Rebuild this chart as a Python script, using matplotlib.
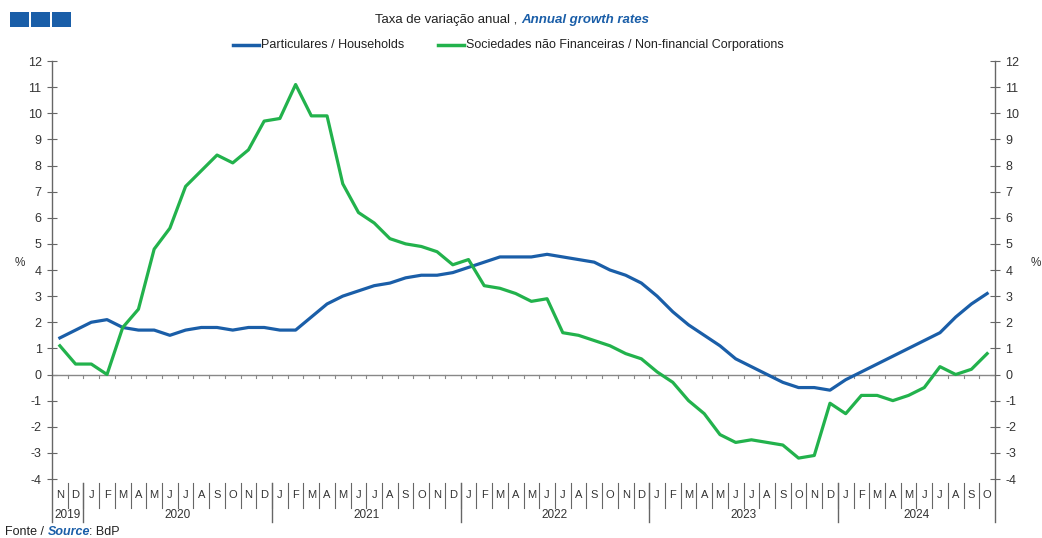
import numpy as np
import matplotlib.pyplot as plt
from matplotlib.patches import Rectangle

# monthly data, Nov 2019 .. Oct 2024
month_letters = ['N', 'D'] + ['J', 'F', 'M', 'A', 'M', 'J', 'J', 'A', 'S', 'O', 'N', 'D'] * 4 + \
    ['J', 'F', 'M', 'A', 'M', 'J', 'J', 'A', 'S', 'O']
years = ['2019', '2020', '2021', '2022', '2023', '2024']
year_months = [2, 12, 12, 12, 12, 10]

households = [1.4, 1.7, 2.0, 2.1, 1.8, 1.7, 1.7, 1.5, 1.7, 1.8, 1.8, 1.7, 1.8, 1.8, 1.7, 1.7,
              2.2, 2.7, 3.0, 3.2, 3.4, 3.5, 3.7, 3.8, 3.8, 3.9, 4.1, 4.3, 4.5, 4.5, 4.5, 4.6,
              4.5, 4.4, 4.3, 4.0, 3.8, 3.5, 3.0, 2.4, 1.9, 1.5, 1.1, 0.6, 0.3, 0.0, -0.3, -0.5,
              -0.5, -0.6, -0.2, 0.1, 0.4, 0.7, 1.0, 1.3, 1.6, 2.2, 2.7, 3.1]
corporations = [1.1, 0.4, 0.4, 0.0, 1.8, 2.5, 4.8, 5.6, 7.2, 7.8, 8.4, 8.1, 8.6, 9.7, 9.8, 11.1,
                9.9, 9.9, 7.3, 6.2, 5.8, 5.2, 5.0, 4.9, 4.7, 4.2, 4.4, 3.4, 3.3, 3.1, 2.8, 2.9,
                1.6, 1.5, 1.3, 1.1, 0.8, 0.6, 0.1, -0.3, -1.0, -1.5, -2.3, -2.6, -2.5, -2.6, -2.7, -3.2,
                -3.1, -1.1, -1.5, -0.8, -0.8, -1.0, -0.8, -0.5, 0.3, 0.0, 0.2, 0.8]

BLUE = '#1a5ea8'
GREEN = '#22b24c'
GREY = '#666666'
FONT = ['Liberation Sans Narrow', 'Liberation Sans', 'DejaVu Sans']

plt.rcParams['font.family'] = ['Liberation Sans', 'DejaVu Sans']
plt.rcParams['axes.unicode_minus'] = False

fig = plt.figure(figsize=(10.42, 5.38), dpi=100)
ax = fig.add_axes([52 / 1042, 1 - 479 / 538, 943 / 1042, 418 / 538])

x = np.arange(len(month_letters))
ax.plot(x, households, color=BLUE, lw=2.3, solid_joinstyle='round', zorder=3)
ax.plot(x, corporations, color=GREEN, lw=2.3, solid_joinstyle='round', zorder=3)

ax.set_xlim(-0.5, len(x) - 0.5)
ax.set_ylim(-4, 12)
ax.set_yticks(range(-4, 13))
ax.set_xticks([])
for s in ax.spines.values():
    s.set_visible(False)
ax.yaxis.set_ticks_position('both')
ax.tick_params(axis='y', direction='inout', length=7, width=0.8, color=GREY,
               labelsize=9, labelcolor='#333333', pad=4, labelright=True)

trans = ax.get_xaxis_transform()
# zero line with monthly ticks
ax.axhline(0, color='#888888', lw=1, zorder=2)
for b in np.arange(0.5, len(x) - 0.5):
    ax.plot([b, b], [0, -0.15], color='#888888', lw=0.8, zorder=2)

# vertical axes extending below the plot
for xb in [-0.5, len(x) - 0.5]:
    ax.plot([xb, xb], [1, -0.103], transform=trans, color=GREY, lw=1, clip_on=False)

# month / year labels
for i, m in enumerate(month_letters):
    ax.text(i, -0.038, m, transform=trans, ha='center', va='center', fontsize=8,
            color='#333333', family=FONT)
for b in np.arange(0.5, len(x) - 1):
    ax.plot([b, b], [-0.01, -0.069], transform=trans, color=GREY, lw=0.8, clip_on=False)
start = -0.5
for yr, n in zip(years, year_months):
    end = start + n
    if end < len(x) - 0.5:
        ax.plot([end, end], [-0.01, -0.103], transform=trans, color=GREY, lw=1, clip_on=False)
    ax.text((start + end) / 2, -0.087, yr, transform=trans, ha='center', va='center',
            fontsize=8.5, color='#333333', family=FONT)
    start = end

# % labels
fig.text(20 / 1042, 1 - 263 / 538, '%', ha='center', va='center', fontsize=8.5, color='#333333')
fig.text(1036 / 1042, 1 - 263 / 538, '%', ha='center', va='center', fontsize=8.5, color='#333333')

# logo
for k in range(3):
    fig.add_artist(Rectangle(((10 + k * 21) / 1042, 1 - 27 / 538), 19 / 1042, 15 / 538,
                             transform=fig.transFigure, facecolor=BLUE, edgecolor='none'))

# title
fig.text(0.5, 1 - 20 / 538, 'Taxa de variação anual , ', ha='right', va='center',
         fontsize=9.5, color='#222222', family=FONT)
fig.text(0.5, 1 - 20 / 538, 'Annual growth rates', ha='left', va='center', fontsize=9.5,
         color=BLUE, fontweight='bold', fontstyle='italic', family=FONT)

# legend
ly = 1 - 45 / 538
fig.add_artist(plt.Line2D([233 / 1042, 259 / 1042], [ly, ly], color=BLUE, lw=2.5))
fig.text(261 / 1042, ly, 'Particulares / Households', ha='left', va='center', fontsize=9,
         color='#222222', family=FONT)
fig.add_artist(plt.Line2D([438 / 1042, 464 / 1042], [ly, ly], color=GREEN, lw=2.5))
fig.text(466 / 1042, ly, 'Sociedades não Financeiras / Non-financial Corporations', ha='left',
         va='center', fontsize=9, color='#222222', family=FONT)

# source
fy = 1 - 532 / 538
fig.text(5 / 1042, fy, 'Fonte / ', ha='left', va='center', fontsize=9, color='#222222', family=FONT)
fig.text(48 / 1042, fy, 'Source', ha='left', va='center', fontsize=9, color=BLUE,
         fontweight='bold', fontstyle='italic', family=FONT)
fig.text(89 / 1042, fy, ': BdP', ha='left', va='center', fontsize=9, color='#222222', family=FONT)

fig.savefig('out.png', dpi=100)
